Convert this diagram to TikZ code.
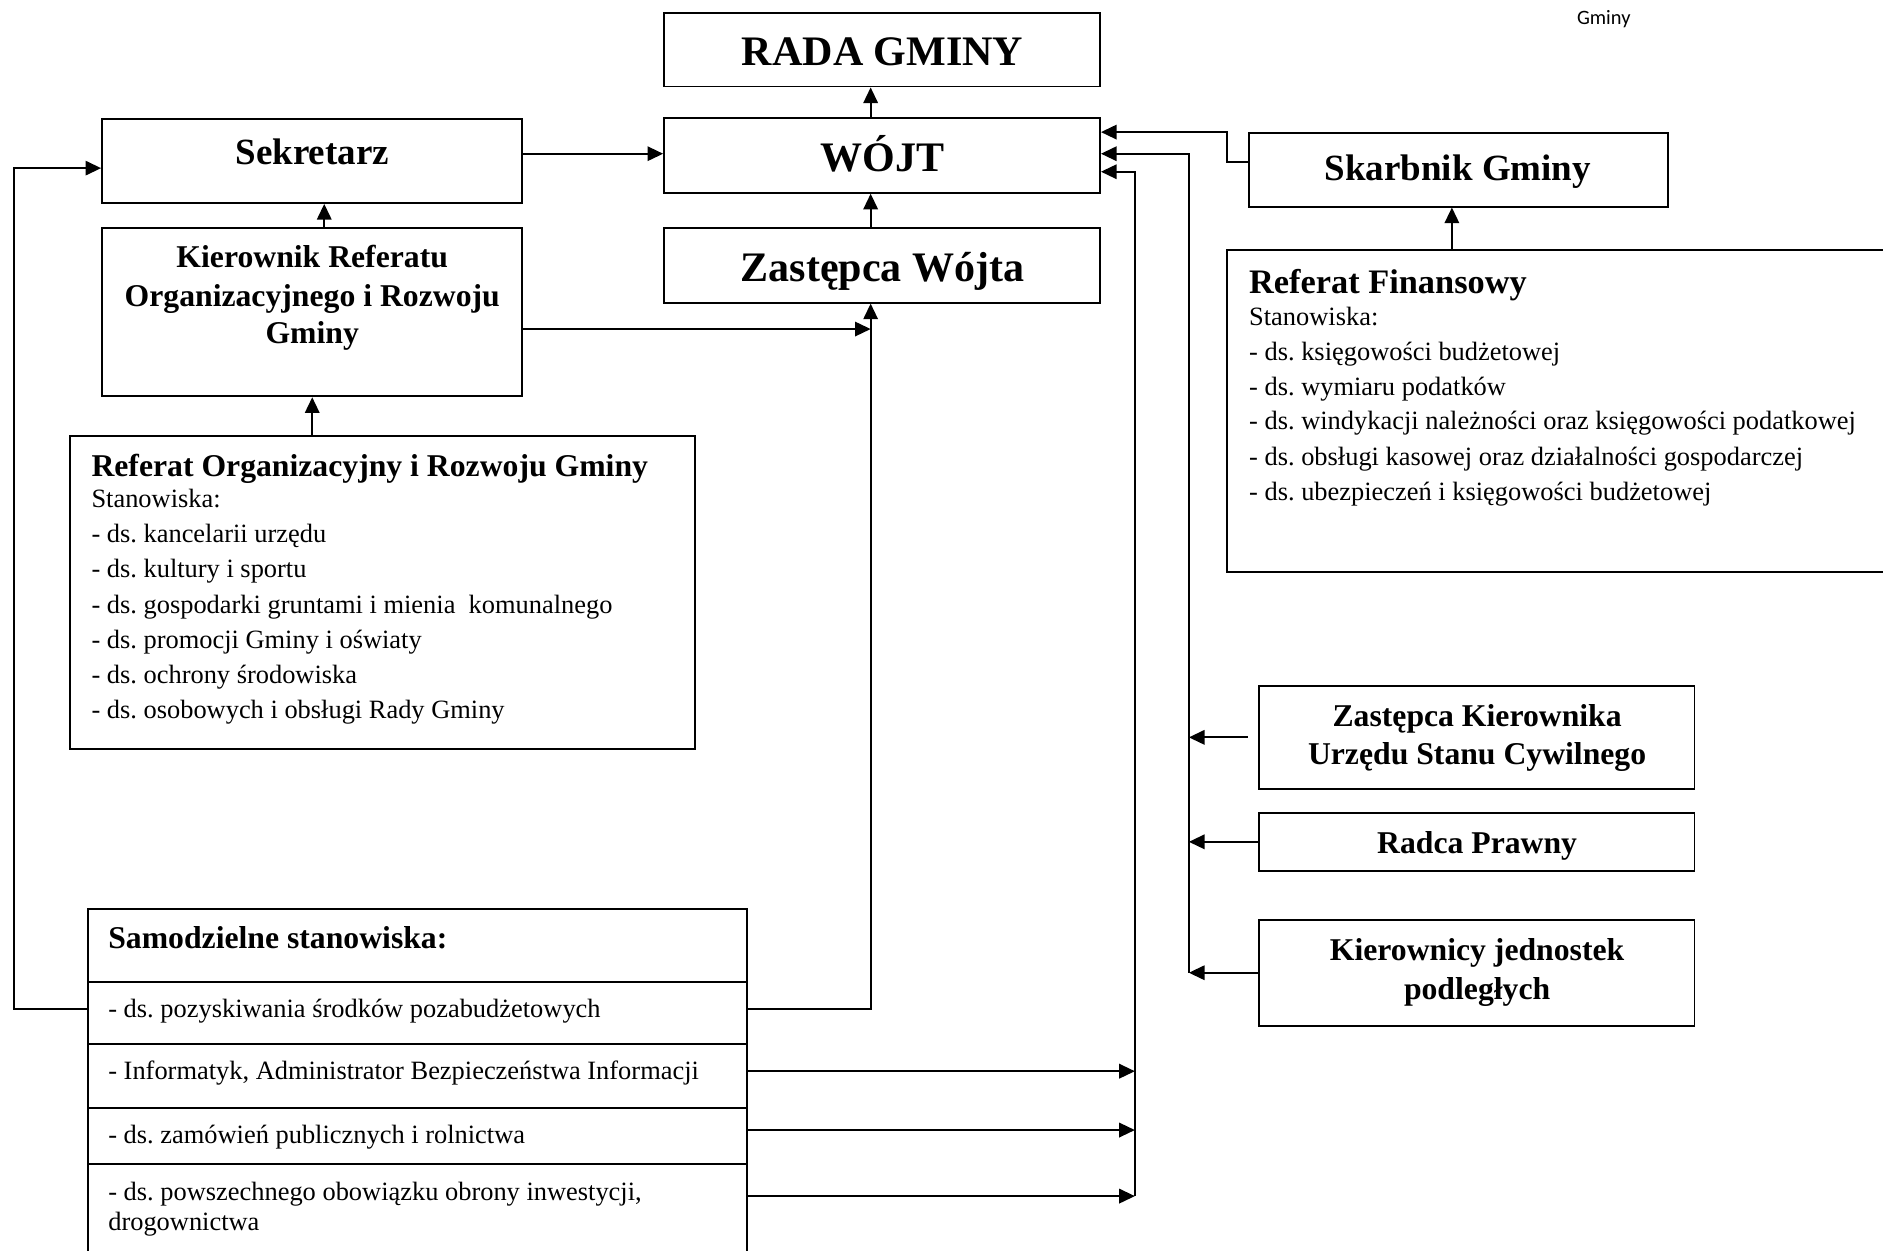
\documentclass[tikz,border=0pt]{standalone}
\usepackage{fontspec}
\setmainfont{Liberation Serif}
\newfontfamily\calibrifont{Carlito}
\usetikzlibrary{arrows.meta}
\frenchspacing
\begin{document}
\begin{tikzpicture}[x=1pt,y=-1pt,
  box/.style={draw, line width=1.6pt, inner sep=0pt},
  arr/.style={line width=1.6pt, -{Triangle[length=13pt,width=12pt]}},
  tbig/.style={anchor=base, inner sep=0pt, font=\fontsize{35}{42}\selectfont\bfseries},
  tmid/.style={anchor=base, inner sep=0pt, font=\fontsize{30.8}{36}\selectfont\bfseries},
  tsub/.style={anchor=base, inner sep=0pt, font=\fontsize{26.4}{31}\selectfont\bfseries},
  tfin/.style={anchor=base west, inner sep=0pt, font=\fontsize{28.6}{33}\selectfont\bfseries},
  thead/.style={anchor=base west, inner sep=0pt, font=\fontsize{26.4}{31}\selectfont\bfseries},
  titem/.style={anchor=base west, inner sep=0pt, font=\fontsize{22}{29}\selectfont},
]
\useasboundingbox (0,0) rectangle (1568,1041);

% ---- boxes ----
\node[box, minimum width=363pt, minimum height=61pt] (rada) at (734.5,41.5) {};
\node[box, minimum width=363pt, minimum height=62pt] (wojt) at (734.5,129.5) {};
\node[box, minimum width=363pt, minimum height=62pt] (zast) at (734.5,221) {};
\node[box, minimum width=350pt, minimum height=70pt] (sek) at (260,134) {};
\node[box, minimum width=350pt, minimum height=140pt] (kier) at (260,260) {};
\node[box, minimum width=521pt, minimum height=261pt] (ro) at (318.5,493.5) {};
\node[box, minimum width=349pt, minimum height=61pt] (skarb) at (1214.5,141.5) {};
\node[box, minimum width=560pt, minimum height=268pt] (fin) at (1302,342) {};
\node[box, minimum width=363pt, minimum height=86pt] (zk) at (1229.5,614) {};
\node[box, minimum width=363pt, minimum height=48pt] (rad) at (1229.5,701) {};
\node[box, minimum width=363pt, minimum height=88pt] (kj) at (1229.5,810) {};
\node[box, minimum width=549pt, minimum height=61pt] (s0) at (347.5,787.5) {};
\node[box, minimum width=549pt, minimum height=51pt] (s1) at (347.5,843.5) {};
\node[box, minimum width=549pt, minimum height=54pt] (s2) at (347.5,896) {};
\node[box, minimum width=549pt, minimum height=46pt] (s3) at (347.5,946) {};
\node[box, minimum width=549pt, minimum height=90pt] (s4) at (347.5,1014) {};

% ---- texts ----
\node[tbig] (radat) at (735,54.5) {RADA GMINY};
\node[tbig] (wojtt) at (735,143) {WÓJT};
\node[tbig] (zastt) at (735,234) {Zastępca Wójta};
\node[tmid] (sekt) at (260,137) {Sekretarz};
\node[tsub] (kiert1) at (260,223) {Kierownik Referatu};
\node[tsub] (kiert2) at (260,255) {Organizacyjnego i Rozwoju};
\node[tsub] (kiert3) at (260,286) {Gminy};
\node[tmid] (skarbt) at (1214,150) {Skarbnik Gminy};

\node[thead] (rot0) at (76,397) {Referat Organizacyjny i Rozwoju Gminy};
\node[titem] (rot1) at (76,423) {Stanowiska:};
\node[titem] (rot2) at (76,452) {- ds. kancelarii urzędu};
\node[titem] (rot3) at (76,481) {- ds. kultury i sportu};
\node[titem] (rot4) at (76,510.5) {- ds. gospodarki gruntami i mienia~ komunalnego};
\node[titem] (rot5) at (76,540) {- ds. promocji Gminy i oświaty};
\node[titem] (rot6) at (76,569) {- ds. ochrony środowiska};
\node[titem] (rot7) at (76,598) {- ds. osobowych i obsługi Rady Gminy};

\node[tfin] (fint0) at (1040,244) {Referat Finansowy};
\node[titem] (fint1) at (1040,271) {Stanowiska:};
\node[titem] (fint2) at (1040,300) {- ds. księgowości budżetowej};
\node[titem] (fint3) at (1040,329) {- ds. wymiaru podatków};
\node[titem] (fint4) at (1040,358) {- ds. windykacji należności oraz księgowości podatkowej};
\node[titem] (fint5) at (1040,388) {- ds. obsługi kasowej oraz działalności gospodarczej};
\node[titem] (fint6) at (1040,417) {- ds. ubezpieczeń i księgowości budżetowej};

\node[tsub] (zkt1) at (1230,605) {Zastępca Kierownika};
\node[tsub] (zkt2) at (1230,637) {Urzędu Stanu Cywilnego};
\node[tsub] (radt) at (1230,711) {Radca Prawny};
\node[tsub] (kjt1) at (1230,800) {Kierownicy jednostek};
\node[tsub] (kjt2) at (1230,832) {podległych};

\node[thead] (s0t) at (90,790) {Samodzielne stanowiska:};
\node[titem] (s1t) at (90,847) {- ds. pozyskiwania środków pozabudżetowych};
\node[titem] (s2t) at (90,899) {- Informatyk, Administrator Bezpieczeństwa Informacji};
\node[titem] (s3t) at (90,952) {- ds. zamówień publicznych i rolnictwa};
\node[titem] (s4t1) at (90,1000) {- ds. powszechnego obowiązku obrony inwestycji,};
\node[titem] (s4t2) at (90,1025) {drogownictwa};

\node[anchor=base west, inner sep=0pt, font=\calibrifont\fontsize{17}{20}\selectfont] (gm) at (1313,20) {Gminy};

% ---- helper coordinates ----
\coordinate (vc) at (725,0);
\coordinate (vl) at (12,0);
\coordinate (v270) at (270,0);
\coordinate (v945) at (945,0);
\coordinate (v990) at (990,0);
\coordinate (v1022) at (1022,0);
\coordinate (v1209) at (1209,0);
\coordinate (h110) at (0,110);
\coordinate (h128) at (0,128);
\coordinate (h135) at (0,135);
\coordinate (h140) at (0,140);
\coordinate (h143) at (0,143);
\coordinate (h274) at (0,274);
\coordinate (h840) at (0,840);
\coordinate (h892) at (0,892);
\coordinate (h941) at (0,941);
\coordinate (h996) at (0,996);

% ---- connectors ----
\draw[arr] (wojt.north -| vc) -- (rada.south -| vc);
\draw[arr] (zast.north -| vc) -- (wojt.south -| vc);
\draw[arr] (sek.east |- h128) -- (wojt.west |- h128);
\draw[arr] (kier.north -| v270) -- (sek.south -| v270);
\draw[arr] (ro.north -| kier.south) -- (kier.south);
\draw[arr] (kier.east |- h274) -- (vc |- h274);
\draw[arr] (s1.east |- h840) -- (vc |- h840) -- (zast.south -| vc);
\draw[arr] (s1.west |- h840) -- (vl |- h840) -- (vl |- h140) -- (sek.west |- h140);

\draw[arr] (skarb.west |- h135) -- (v1022 |- h135) -- (v1022 |- h110) -- (wojt.east |- h110);
\draw[arr] (fin.north -| v1209) -- (skarb.south -| v1209);

\draw[arr] (v990 |- kj.west) -- (v990 |- h128) -- (wojt.east |- h128);
\draw[arr] ([xshift=-8pt]zk.west) -- (zk.west -| v990);
\draw[arr] (rad.west) -- (rad.west -| v990);
\draw[arr] (kj.west) -- (kj.west -| v990);

\draw[arr] (v945 |- h996) -- (v945 |- h143) -- (wojt.east |- h143);
\draw[arr] (s2.east |- h892) -- (v945 |- h892);
\draw[arr] (s3.east |- h941) -- (v945 |- h941);
\draw[arr] (s4.east |- h996) -- (v945 |- h996);
\end{tikzpicture}
\end{document}
